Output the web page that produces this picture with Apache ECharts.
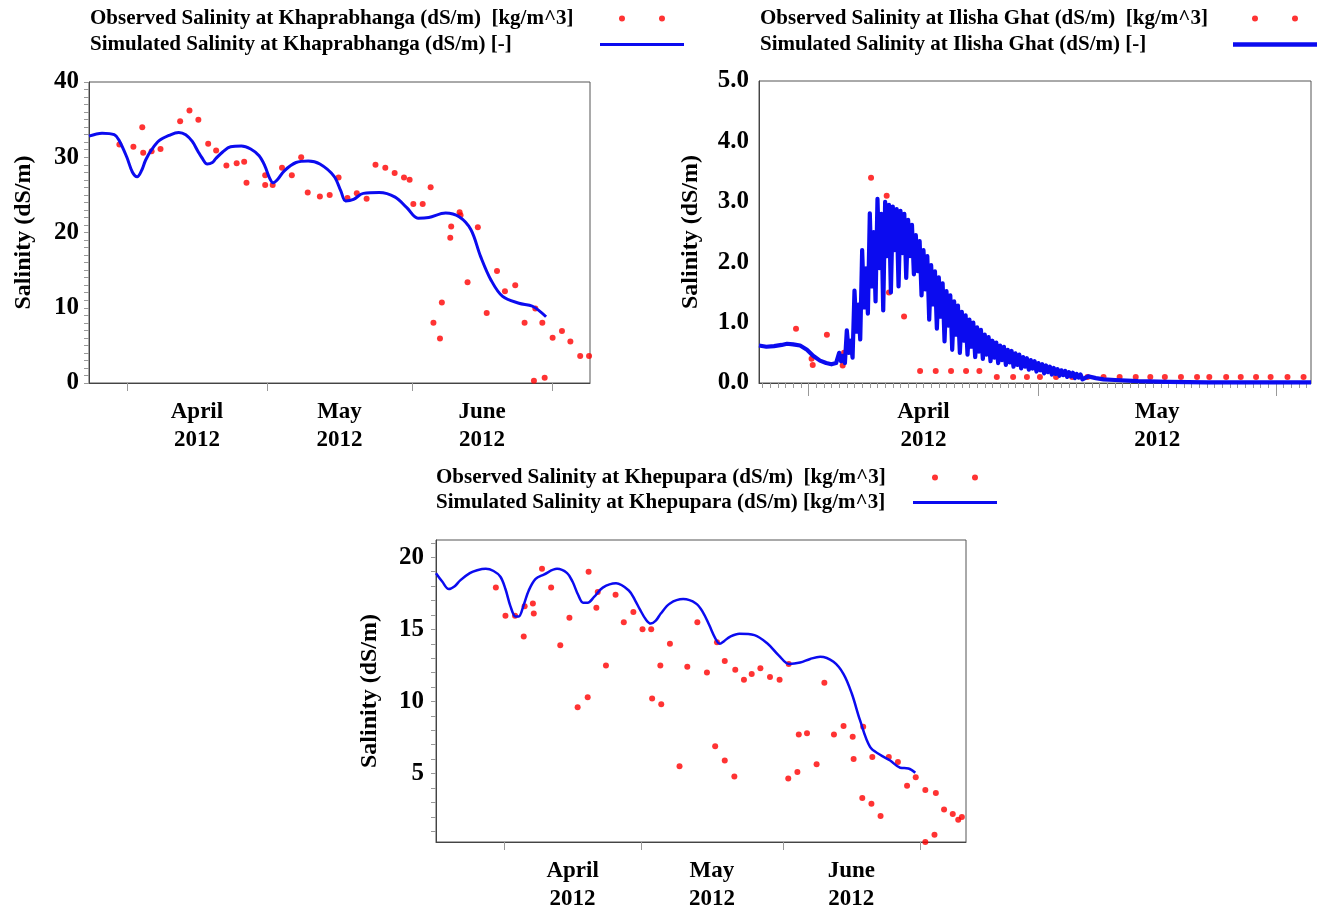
<!DOCTYPE html>
<html>
<head>
<meta charset="utf-8">
<title>Salinity</title>
<script src="https://cdn.jsdelivr.net/npm/echarts@6/dist/echarts.min.js"></script>
<style>
html, body { margin: 0; padding: 0; background: #fff; }
#chart { width: 1323px; height: 905px; }
</style>
</head>
<body>
<div id="chart"></div>
<script>
// x values are days counted from 1 April 2012
var monthTickDays = [0, 30, 61, 91];
var monthLabelDays = [15, 45.5, 76];
var monthLabels = ['April\n2012', 'May\n2012', 'June\n2012'];

// Khaprabhanga
var khapObsDays = [-1.6, 1.4, 3.3, 3.5, 5.3, 7.2, 11.4, 13.4, 15.3, 17.4, 19.1, 21.3, 23.5, 25.1, 25.6, 29.6, 29.6, 31.2, 33.2, 35.3, 37.3, 38.7, 41.3, 43.4, 45.3, 47.2, 49.2, 51.3, 53.2, 55.3, 57.3, 59.3, 60.5, 61.3, 63.3, 65.0, 65.6, 67.0, 67.4, 69.2, 69.4, 71.2, 71.4, 72.9, 75.1, 77.0, 79.2, 80.9, 83.1, 85.1, 87.1, 87.4, 88.9, 89.4, 91.1, 93.1, 94.9, 97.0, 98.9];
var khapObsVals = [31.7, 31.4, 34.0, 30.6, 30.8, 31.1, 34.8, 36.2, 35.0, 31.8, 30.9, 28.9, 29.2, 29.4, 26.6, 27.6, 26.3, 26.3, 28.6, 27.6, 30.0, 25.3, 24.8, 25.0, 27.3, 24.6, 25.2, 24.5, 29.0, 28.6, 27.9, 27.3, 27.0, 23.8, 23.8, 26.0, 8.0, 5.9, 10.7, 19.3, 20.8, 22.7, 22.3, 13.4, 20.7, 9.3, 14.9, 12.2, 13.0, 8.0, 0.3, 9.9, 8.0, 0.7, 6.0, 6.9, 5.5, 3.6, 3.6];
var khapSimDays = [-8.1, -5.3, -2.7, -1.7, 0.0, 1.2, 2.2, 3.2, 4.0, 5.3, 6.9, 9.0, 11.1, 12.6, 14.0, 15.2, 16.1, 17.2, 18.3, 19.0, 20.5, 22.2, 24.5, 26.5, 28.3, 29.5, 30.5, 31.3, 32.2, 33.7, 36.2, 38.8, 41.3, 44.3, 45.8, 46.8, 48.5, 50.6, 54.0, 57.4, 59.9, 62.3, 64.6, 68.2, 71.1, 73.6, 75.7, 77.9, 80.4, 83.9, 86.8, 89.7];
var khapSimVals = [32.8, 33.2, 33.0, 32.3, 30.0, 28.0, 27.4, 28.3, 29.6, 31.0, 32.2, 32.9, 33.3, 33.0, 32.1, 30.8, 29.9, 29.1, 29.3, 29.8, 30.7, 31.4, 31.5, 31.1, 30.2, 28.9, 27.3, 26.6, 27.0, 28.2, 29.3, 29.5, 29.1, 27.5, 25.5, 24.2, 24.4, 25.2, 25.3, 24.7, 23.3, 21.9, 22.0, 22.6, 22.1, 20.4, 16.8, 13.7, 11.5, 10.6, 10.2, 8.8];

// Ilisha Ghat
var ilishaObsDays = [-1.63, 0.4, 0.55, 2.4, 4.46, 4.63, 8.16, 10.2, 10.5, 12.47, 14.56, 16.6, 18.6, 20.56, 22.3, 24.57, 26.7, 28.5, 30.2, 32.3, 34.4, 36.4, 38.5, 40.6, 42.7, 44.6, 46.5, 48.6, 50.7, 52.3, 54.5, 56.4, 58.4, 60.3, 62.5, 64.6];
var ilishaObsVals = [0.9, 0.4, 0.3, 0.8, 0.29, 0.5, 3.4, 3.1, 1.5, 1.1, 0.2, 0.2, 0.2, 0.2, 0.2, 0.1, 0.1, 0.1, 0.1, 0.1, 0.1, 0.1, 0.1, 0.1, 0.1, 0.1, 0.1, 0.1, 0.1, 0.1, 0.1, 0.1, 0.1, 0.1, 0.1, 0.1];
// tidal signal: one row per day, peak / trough / second peak / deep trough
var ilishaSimDays = [-6.46, -5.5, -4.5, -3.5, -2.8, -2.0, -1.1, -0.2, 0.6, 1.5, 2.3, 3.0, 3.6,
  4.0, 4.25, 4.5, 4.75,
  5.0, 5.25, 5.5, 5.75,
  6.0, 6.25, 6.5, 6.75,
  7.0, 7.25, 7.5, 7.75,
  8.0, 8.25, 8.5, 8.75,
  9.0, 9.25, 9.5, 9.75,
  10.0, 10.25, 10.5, 10.75,
  11.0, 11.25, 11.5, 11.75,
  12.0, 12.25, 12.5, 12.75,
  13.0, 13.25, 13.5, 13.75,
  14.0, 14.25, 14.5, 14.75,
  15.0, 15.25, 15.5, 15.75,
  16.0, 16.25, 16.5, 16.75,
  17.0, 17.25, 17.5, 17.75,
  18.0, 18.25, 18.5, 18.75,
  19.0, 19.25, 19.5, 19.75,
  20.0, 20.25, 20.5, 20.75,
  21.0, 21.25, 21.5, 21.75,
  22.0, 22.25, 22.5, 22.75,
  23.0, 23.25, 23.5, 23.75,
  24.0, 24.25, 24.5, 24.75,
  25.0, 25.25, 25.5, 25.75,
  26.0, 26.25, 26.5, 26.75,
  27.0, 27.25, 27.5, 27.75,
  28.0, 28.25, 28.5, 28.75,
  29.0, 29.25, 29.5, 29.75,
  30.0, 30.25, 30.5, 30.75,
  31.0, 31.25, 31.5, 31.75,
  32.0, 32.25, 32.5, 32.75,
  33.0, 33.25, 33.5, 33.75,
  34.0, 34.25, 34.5, 34.75,
  35.0, 35.25, 35.5, 35.75,
  36.5, 37.5, 38.5, 40, 43, 47, 52, 65.57];
var ilishaSimVals = [0.62, 0.6, 0.61, 0.63, 0.65, 0.64, 0.62, 0.55, 0.45, 0.37, 0.33, 0.31, 0.33,
  0.5, 0.36, 0.45, 0.33,
  0.87, 0.5, 0.7, 0.42,
  1.53, 0.85, 1.3, 0.72,
  2.2, 1.25, 1.9, 1.15,
  2.81, 1.6, 2.5, 1.35,
  3.05, 1.9, 2.8, 1.2,
  3.0, 2.1, 2.95, 1.5,
  2.92, 2.2, 2.88, 1.6,
  2.85, 2.15, 2.8, 1.74,
  2.7, 2.1, 2.62, 1.8,
  2.45, 1.85, 2.35, 1.45,
  2.2, 1.55, 2.1, 1.05,
  1.95, 1.3, 1.85, 0.9,
  1.75, 1.1, 1.65, 0.69,
  1.52, 0.95, 1.45, 0.55,
  1.35, 0.8, 1.28, 0.5,
  1.18, 0.7, 1.12, 0.47,
  1.05, 0.6, 1.0, 0.43,
  0.92, 0.52, 0.88, 0.4,
  0.8, 0.47, 0.76, 0.36,
  0.7, 0.42, 0.67, 0.33,
  0.62, 0.38, 0.6, 0.3,
  0.55, 0.34, 0.53, 0.27,
  0.49, 0.3, 0.47, 0.24,
  0.43, 0.27, 0.41, 0.22,
  0.38, 0.24, 0.36, 0.19,
  0.33, 0.21, 0.31, 0.16,
  0.29, 0.18, 0.27, 0.14,
  0.25, 0.15, 0.23, 0.12,
  0.21, 0.13, 0.2, 0.1,
  0.18, 0.11, 0.17, 0.08,
  0.15, 0.09, 0.14, 0.06,
  0.11, 0.08, 0.06, 0.05, 0.03, 0.02, 0.01, 0.01];

// Khepupara
var khepObsDays = [-1.8, 0.3, 2.4, 4.3, 4.5, 6.3, 6.5, 8.3, 10.3, 12.3, 14.3, 16.1, 18.3, 18.5, 20.2, 20.5, 22.3, 24.4, 26.2, 28.3, 30.3, 32.2, 32.4, 34.2, 34.4, 36.3, 38.4, 40.1, 42.3, 44.4, 46.2, 46.6, 48.3, 48.3, 50.4, 50.6, 52.5, 54.2, 56.1, 58.2, 60.3, 62.2, 62.3, 64.2, 64.5, 66.3, 68.4, 70.1, 72.2, 74.3, 76.3, 76.5, 78.4, 78.6, 80.4, 80.6, 82.4, 84.2, 86.2, 88.2, 90.1, 92.2, 92.2, 94.2, 94.5, 96.3, 98.2, 99.4, 100.2];
var khepObsVals = [17.9, 15.95, 15.95, 14.5, 16.6, 16.8, 16.1, 19.2, 17.9, 13.9, 15.8, 9.6, 10.3, 19.0, 16.5, 17.6, 12.5, 17.4, 15.5, 16.2, 15.0, 15.0, 10.2, 12.5, 9.8, 14.0, 5.5, 12.4, 15.5, 12.0, 6.9, 14.1, 12.8, 5.9, 4.8, 12.2, 11.5, 11.9, 12.3, 11.7, 11.5, 4.65, 12.6, 5.1, 7.7, 7.8, 5.65, 11.3, 7.7, 8.3, 7.55, 6.0, 3.3, 8.25, 2.9, 6.15, 2.05, 6.15, 5.8, 4.15, 4.75, 3.85, 0.25, 0.76, 3.65, 2.5, 2.2, 1.8, 1.99];
var khepSimDays = [-14.9, -13.5, -12.1, -10.8, -9.6, -7.5, -5.9, -4.0, -2.3, -0.8, 0.3, 1.4, 2.5, 3.2, 4.3, 5.4, 6.9, 8.7, 11.6, 13.8, 15.0, 16.2, 17.3, 18.3, 19.7, 21.6, 24.5, 27.3, 28.7, 29.7, 31.0, 32.1, 33.2, 34.3, 36.3, 39.2, 42.0, 43.5, 44.9, 46.2, 47.2, 48.2, 49.5, 51.5, 54.8, 57.7, 60.1, 62.4, 64.8, 67.0, 69.2, 72.1, 74.3, 76.1, 77.9, 80.1, 82.3, 84.5, 86.7, 88.5, 90.0];
var khepSimVals = [18.9, 18.3, 17.8, 18.0, 18.4, 18.9, 19.1, 19.2, 19.05, 18.65, 17.8, 16.6, 15.9, 15.9, 16.7, 17.7, 18.5, 18.8, 19.2, 18.9, 18.3, 17.4, 16.85, 16.85, 17.25, 17.9, 18.2, 17.7, 17.0, 16.4, 15.7, 15.4, 15.6, 16.1, 16.8, 17.1, 16.8, 16.2, 15.3, 14.4, 14.0, 14.2, 14.5, 14.7, 14.6, 14.0, 13.2, 12.6, 12.7, 12.95, 13.1, 12.75, 11.9, 10.55, 8.7, 6.85, 6.3, 5.9, 5.4, 5.35, 5.05];

var khepLabelVals = [5, 10, 15, 20];

function pairs(xs, ys) {
    var out = [];
    for (var i = 0; i < xs.length; i++) out.push([xs[i], ys[i]]);
    return out;
}

var FONT = '"Liberation Serif", "Times New Roman", serif';
var RED = '#ff0000';
var BLUE = '#0b0bef';
var dotsIcon = 'path://M0,0L0,0M19,4A3,3,0,1,0,25,4A3,3,0,1,0,19,4ZM59,4A3,3,0,1,0,65,4A3,3,0,1,0,59,4ZM84,8L84,8';
var lineIcon = 'path://M0,0L0,0M0,2.5L84,2.5L84,5.5L0,5.5ZM84,8L84,8';
var thickLineIcon = 'path://M0,0L0,0M0,1.8L84,1.8L84,6.2L0,6.2ZM84,8L84,8';

// ilisha has small day ticks under the month ticks
var dayTicks = [];
for (var d = -6; d <= 65; d++) dayTicks.push(d);
var khepTicks = [];
for (var t = 1; t <= 21; t++) khepTicks.push(t);

function monthLabel(v) {
    var i = monthLabelDays.indexOf(v);
    return i < 0 ? '' : monthLabels[i];
}

function legend(left, top, gap, textWidth, obs, sim, simIcon) {
    return {
        orient: 'vertical',
        left: left,
        top: top,
        padding: 0,
        align: 'right',
        itemWidth: 84,
        itemHeight: 8,
        itemGap: gap,
        selectedMode: false,
        itemStyle: { borderWidth: 0 },
        data: [{ name: obs, icon: dotsIcon }, { name: sim, icon: simIcon }],
        formatter: function (name) { return '{t|' + name + '}'; },
        textStyle: {
            fontFamily: FONT, fontSize: 21, fontWeight: 'bold', color: '#000',
            rich: { t: { width: textWidth, align: 'left', fontFamily: FONT, fontSize: 21, fontWeight: 'bold', color: '#000', lineHeight: 22 } }
        }
    };
}

function xAxis(grid, min, max, tickDays, labelDays, tickLen) {
    return {
        type: 'value', gridIndex: grid, min: min, max: max, position: 'bottom',
        axisLine: { show: true, onZero: false, lineStyle: { color: '#444', width: 1 } },
        axisTick: { show: true, customValues: tickDays, length: tickLen, lineStyle: { color: '#999' } },
        axisLabel: {
            customValues: labelDays, formatter: monthLabel, margin: 15,
            fontFamily: FONT, fontSize: 23, fontWeight: 'bold', color: '#000', lineHeight: 28
        },
        splitLine: { show: false }
    };
}

var yName = 'Salinity (dS/m)';
var yNameStyle = { fontFamily: FONT, fontSize: 24, fontWeight: 'bold', color: '#000' };
var yLabelStyle = { fontFamily: FONT, fontSize: 25, fontWeight: 'bold', color: '#000' };

var khapObsName = 'Observed Salinity at Khaprabhanga (dS/m)  [kg/m^3]';
var khapSimName = 'Simulated Salinity at Khaprabhanga (dS/m) [-]';
var ilishaObsName = 'Observed Salinity at Ilisha Ghat (dS/m)  [kg/m^3]';
var ilishaSimName = 'Simulated Salinity at Ilisha Ghat (dS/m) [-]';
var khepObsName = 'Observed Salinity at Khepupara (dS/m)  [kg/m^3]';
var khepSimName = 'Simulated Salinity at Khepupara (dS/m) [kg/m^3]';

var gridBase = { show: true, borderColor: '#555', borderWidth: 1, outerBoundsMode: 'none', containLabel: false };

var option = {
    animation: false,
    backgroundColor: '#fff',
    legend: [
        legend(90, 8, 5, 505, khapObsName, khapSimName, lineIcon),
        legend(760, 8, 5, 468, ilishaObsName, ilishaSimName, thickLineIcon),
        legend(436, 467, 4, 472, khepObsName, khepSimName, lineIcon)
    ],
    grid: [
        Object.assign({ left: 89, top: 82, width: 501, height: 301 }, gridBase),
        Object.assign({ left: 759, top: 81, width: 552, height: 302 }, gridBase),
        Object.assign({ left: 436, top: 540, width: 530, height: 302 }, gridBase)
    ],
    xAxis: [
        xAxis(0, -8.1, 99.1, monthTickDays, monthLabelDays, 8),
        xAxis(1, -6.46, 65.57, [0, 30, 61], [15, 45.5], 13),
        {
            type: 'value', gridIndex: 1, min: -6.46, max: 65.57, position: 'bottom',
            axisLine: { show: false, onZero: false },
            axisTick: { show: true, customValues: dayTicks, length: 5, lineStyle: { color: '#999' } },
            axisLabel: { show: false },
            splitLine: { show: false }
        },
        xAxis(2, -14.9, 101.1, monthTickDays, monthLabelDays, 8)
    ],
    yAxis: [
        {
            type: 'value', gridIndex: 0, min: 0, max: 40, interval: 10,
            name: yName, nameLocation: 'middle', nameRotate: 90, nameGap: 53, nameTextStyle: yNameStyle,
            axisLine: { show: true, onZero: false, lineStyle: { color: '#444' } },
            axisTick: { show: true, length: 5, lineStyle: { color: '#999' } },
            minorTick: { show: true, splitNumber: 10, length: 5, lineStyle: { color: '#999' } },
            axisLabel: Object.assign({ margin: 10 }, yLabelStyle),
            splitLine: { show: false }
        },
        {
            type: 'value', gridIndex: 1, min: 0, max: 5, interval: 1,
            name: yName, nameLocation: 'middle', nameRotate: 90, nameGap: 56, nameTextStyle: yNameStyle,
            axisLine: { show: true, onZero: false, lineStyle: { color: '#444' } },
            axisTick: { show: false },
            axisLabel: Object.assign({ margin: 10, formatter: function (v) { return v.toFixed(1); } }, yLabelStyle),
            splitLine: { show: false }
        },
        {
            type: 'value', gridIndex: 2, min: 0.25, max: 21.2,
            name: yName, nameLocation: 'middle', nameRotate: 90, nameGap: 54, nameTextStyle: yNameStyle,
            axisLine: { show: true, onZero: false, lineStyle: { color: '#444' } },
            axisTick: { show: true, customValues: khepTicks, length: 5, lineStyle: { color: '#999' } },
            axisLabel: Object.assign({ margin: 12, customValues: khepLabelVals }, yLabelStyle),
            splitLine: { show: false }
        }
    ],
    series: [
        {
            name: khapObsName, type: 'scatter', xAxisIndex: 0, yAxisIndex: 0,
            symbolSize: 6, itemStyle: { color: RED }, data: pairs(khapObsDays, khapObsVals)
        },
        {
            name: khapSimName, type: 'line', xAxisIndex: 0, yAxisIndex: 0, smooth: 0.35, symbol: 'none',
            itemStyle: { color: BLUE }, lineStyle: { color: BLUE, width: 3 }, data: pairs(khapSimDays, khapSimVals)
        },
        {
            name: ilishaObsName, type: 'scatter', xAxisIndex: 1, yAxisIndex: 1,
            symbolSize: 6, itemStyle: { color: RED }, data: pairs(ilishaObsDays, ilishaObsVals)
        },
        {
            name: ilishaSimName, type: 'line', xAxisIndex: 1, yAxisIndex: 1, symbol: 'none',
            itemStyle: { color: BLUE }, lineStyle: { color: BLUE, width: 4.2, join: 'round' }, data: pairs(ilishaSimDays, ilishaSimVals)
        },
        {
            name: khepObsName, type: 'scatter', xAxisIndex: 3, yAxisIndex: 2,
            symbolSize: 6, itemStyle: { color: RED }, data: pairs(khepObsDays, khepObsVals)
        },
        {
            name: khepSimName, type: 'line', xAxisIndex: 3, yAxisIndex: 2, smooth: 0.35, symbol: 'none',
            itemStyle: { color: BLUE }, lineStyle: { color: BLUE, width: 2.5 }, data: pairs(khepSimDays, khepSimVals)
        }
    ]
};

var chart = echarts.init(document.getElementById('chart'));
chart.setOption(option);
</script>
</body>
</html>
